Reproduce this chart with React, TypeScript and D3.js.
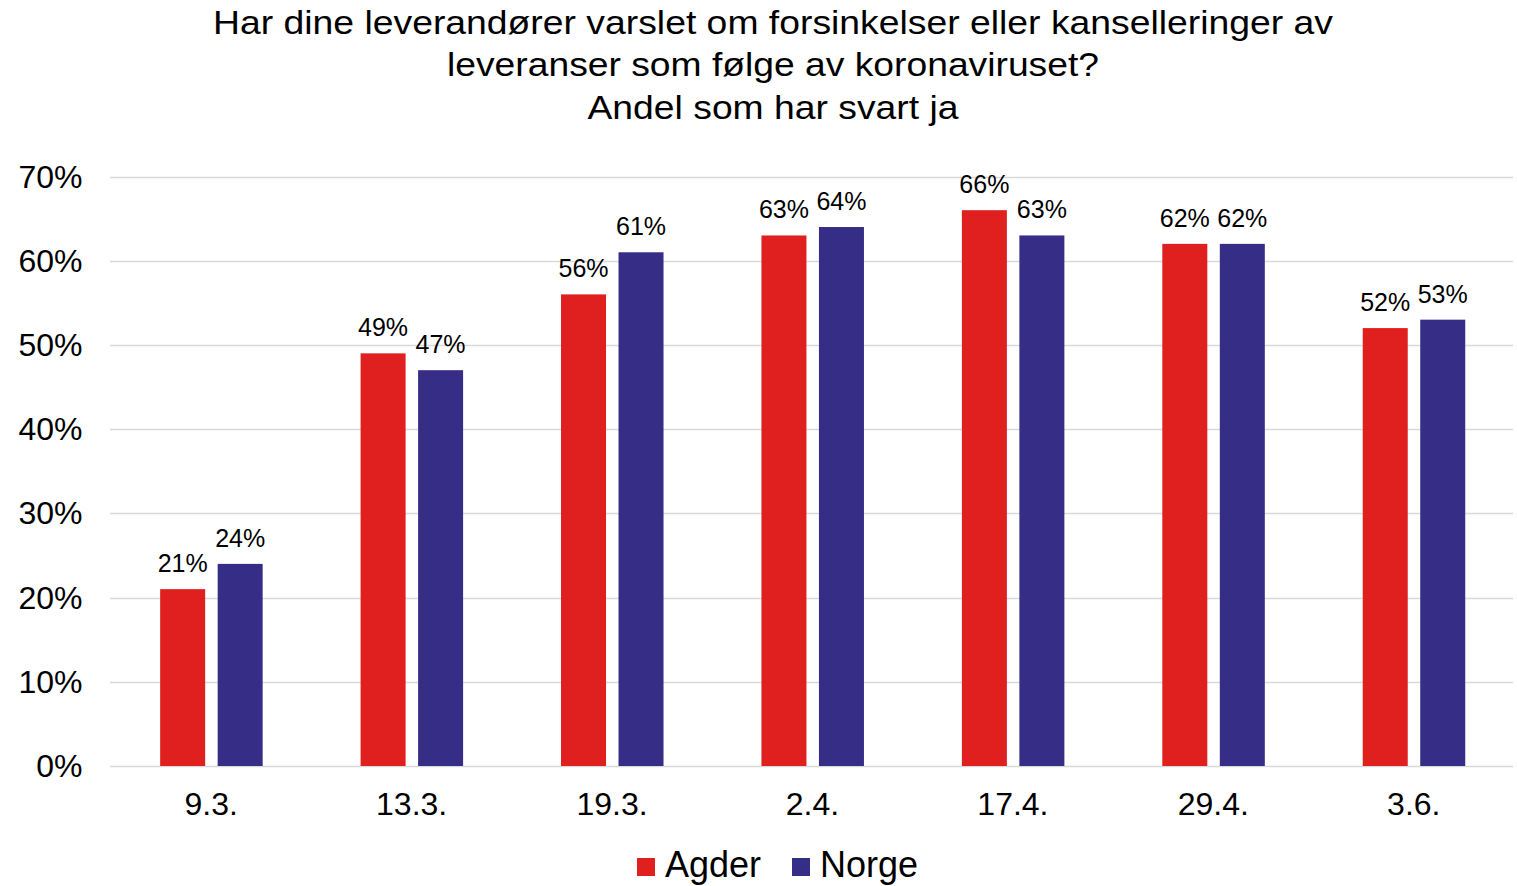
import { useEffect, useRef } from 'react';
import * as d3 from 'd3';

const categories = ['9.3.', '13.3.', '19.3.', '2.4.', '17.4.', '29.4.', '3.6.'];
const agder = [21, 49, 56, 63, 66, 62, 52];
const norge = [24, 47, 61, 64, 63, 62, 53];
const seriesNames = ['Agder', 'Norge'];
const seriesColors = ['#E01F1F', '#362D86'];
const yTicks = [0, 10, 20, 30, 40, 50, 60, 70];
const titleLines = [
  'Har dine leverandører varslet om forsinkelser eller kanselleringer av',
  'leveranser som følge av koronaviruset?',
  'Andel som har svart ja',
];
// rendered widths of the title lines in the original (its font runs slightly wide)
const titleWidths = [1120, 652, 371];

const W = 1517;
const H = 886;
const FONT = '"Liberation Sans", Arial, sans-serif';

const App = () => {
  const svgRef = useRef<SVGSVGElement>(null);

  useEffect(() => {
    const svg = d3.select(svgRef.current);
    svg.selectAll('*').remove();

    const left = 110, right = 1513, top = 176.5, bottom = 766;

    const x = d3.scaleBand().domain(categories).range([left, right]);
    const y = d3.scaleLinear().domain([0, 70]).range([bottom, top]);

    const barW = 45;
    const gap = 12.5;
    const shift = 1.2;
    const offsets = [-(gap / 2 + barW) + shift, gap / 2 + shift];

    // title
    svg.append('g')
      .selectAll('text')
      .data(titleLines)
      .enter()
      .append('text')
      .attr('x', 773)
      .attr('y', (d, i) => 34 + i * 42.3)
      .attr('text-anchor', 'middle')
      .attr('textLength', (d, i) => titleWidths[i])
      .attr('lengthAdjust', 'spacingAndGlyphs')
      .style('font-family', FONT)
      .style('font-size', '34px')
      .attr('fill', '#000')
      .text(d => d);

    // grid
    svg.append('g')
      .selectAll('line')
      .data(yTicks)
      .enter()
      .append('line')
      .attr('x1', left)
      .attr('x2', right)
      .attr('y1', d => Math.round(y(d)) + 0.5)
      .attr('y2', d => Math.round(y(d)) + 0.5)
      .attr('stroke', '#D9D9D9')
      .attr('stroke-width', 1.5);

    // y labels
    svg.append('g')
      .selectAll('text')
      .data(yTicks)
      .enter()
      .append('text')
      .attr('x', 82.5)
      .attr('y', d => y(d) + 11)
      .attr('text-anchor', 'end')
      .style('font-family', FONT)
      .style('font-size', '32px')
      .text(d => `${d}%`);

    // x labels
    svg.append('g')
      .selectAll('text')
      .data(categories)
      .enter()
      .append('text')
      .attr('x', d => x(d)! + x.bandwidth() / 2 + 1)
      .attr('y', 815)
      .attr('text-anchor', 'middle')
      .style('font-family', FONT)
      .style('font-size', '32px')
      .text(d => d);

    const series = [agder, norge];
    series.forEach((vals, si) => {
      const g = svg.append('g');
      g.selectAll('rect')
        .data(vals)
        .enter()
        .append('rect')
        .attr('x', (d, i) => x(categories[i])! + x.bandwidth() / 2 + offsets[si])
        .attr('y', d => y(d))
        .attr('width', barW)
        .attr('height', d => y(0) - y(d))
        .attr('fill', seriesColors[si]);

      g.selectAll('text')
        .data(vals)
        .enter()
        .append('text')
        .attr('x', (d, i) => x(categories[i])! + x.bandwidth() / 2 + offsets[si] + barW / 2)
        .attr('y', d => y(d) - 17)
        .attr('text-anchor', 'middle')
        .style('font-family', FONT)
        .style('font-size', '25px')
        .text(d => `${d}%`);
    });

    // legend
    const legendItems = [
      { name: seriesNames[0], color: seriesColors[0], x: 637 },
      { name: seriesNames[1], color: seriesColors[1], x: 792 },
    ];
    const lg = svg.append('g');
    legendItems.forEach(item => {
      lg.append('rect')
        .attr('x', item.x)
        .attr('y', 858)
        .attr('width', 18)
        .attr('height', 18)
        .attr('fill', item.color);
      lg.append('text')
        .attr('x', item.x + 28)
        .attr('y', 877)
        .style('font-family', FONT)
        .style('font-size', '36px')
        .text(item.name);
    });
  }, []);

  return (
    <svg
      ref={svgRef}
      width={W}
      height={H}
      style={{ position: 'absolute', left: 0, top: 0, background: '#fff' }}
    />
  );
};

export default App;
